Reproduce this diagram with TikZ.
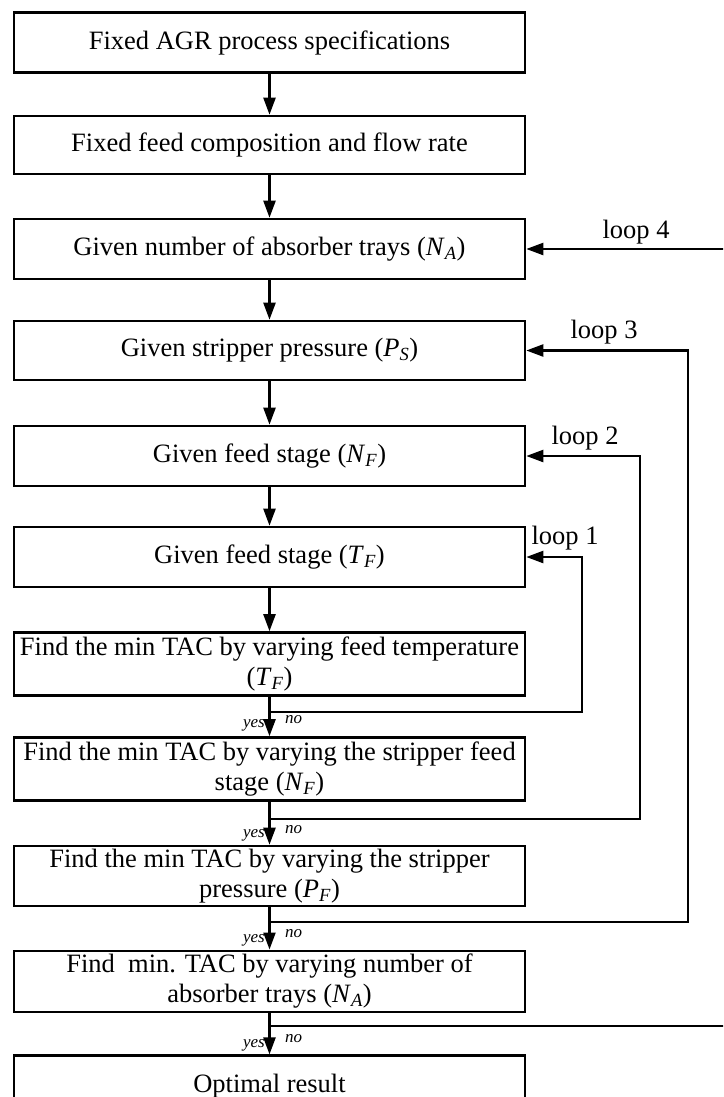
\documentclass[tikz,border=0pt]{standalone}
\usepackage{fontspec}
\setmainfont{Liberation Serif}
\usetikzlibrary{arrows.meta}
\newcommand\vr[2]{\textit{#1}\textsubscript{\textit{#2}}}
\begin{document}
\begin{tikzpicture}[x=1pt,y=-1pt,
 box/.style={draw, line width=2.6pt, minimum width=511pt, inner sep=0pt, align=center, font=\fontsize{26.5}{30}\selectfont},
 flow/.style={line width=2.3pt, -{Triangle[length=17pt,width=12pt]}},
 lbl/.style={font=\fontsize{26.5}{30}\selectfont, inner sep=0pt},
 yn/.style={font=\fontsize{17}{19}\selectfont\itshape, inner sep=0pt}]
\useasboundingbox (0,0) rectangle (723,1097);
\clip (0,0) rectangle (723,1097);
% boxes
\node[box, minimum height=60pt] (b1) at (269.5,42.5) {Fixed AGR process specifications};
\node[box, minimum height=58pt] (b2) at (269.5,145) {Fixed feed composition and flow rate};
\node[box, minimum height=60pt] (b3) at (269.5,249) {Given number of absorber trays (\vr{N}{A})};
\node[box, minimum height=59pt] (b4) at (269.5,350.5) {Given stripper pressure (\vr{P}{S})};
\node[box, minimum height=60pt] (b5) at (269.5,456) {Given feed stage (\vr{N}{F})};
\node[box, minimum height=60pt] (b6) at (269.5,557) {Given feed stage (\vr{T}{F})};
\node[box, minimum height=63pt] (b7) at (269.5,664) {Find the min TAC by varying feed temperature\\(\vr{T}{F})};
\node[box, minimum height=63pt] (b8) at (269.5,769) {Find the min TAC by varying the stripper feed\\stage (\vr{N}{F})};
\node[box, minimum height=60pt] (b9) at (269.5,876) {Find the min TAC by varying the stripper\\pressure (\vr{P}{F})};
\node[box, minimum height=61pt] (b10) at (269.5,981.3) {Find\ \ min. TAC by varying number of\\absorber trays (\vr{N}{A})};
\node[box, minimum height=60pt] (b11) at (269.5,1085.7) {Optimal result};
% main flow
\draw[flow] (b1) -- (b2);
\draw[flow] (b2) -- (b3);
\draw[flow] (b3) -- (b4);
\draw[flow] (b4) -- (b5);
\draw[flow] (b5) -- (b6);
\draw[flow] (b6) -- (b7);
\draw[flow] (b7) -- (b8);
\draw[flow] (b8) -- (b9);
\draw[flow] (b9) -- (b10);
\draw[flow] (b10) -- (b11);
% loop junctions and corners
\coordinate (j1) at (269.5,712);
\coordinate (k1) at (582,712);
\coordinate (j2) at (269.5,819);
\coordinate (k2) at (640,819);
\coordinate (j3) at (269.5,921.7);
\coordinate (k3) at (688,921.7);
\coordinate (j4) at (269.5,1026);
\coordinate (k4) at (745,1026);
\draw[flow] (j1) -- (k1) |- (b6.east);
\draw[flow] (j2) -- (k2) |- (b5.east);
\draw[flow] (j3) -- (k3) |- (b4.east);
\draw[flow] (j4) -- (k4) |- (b3.east);
% loop labels
\node[lbl] (l1) at (565,538) {loop 1};
\node[lbl] (l2) at (585,438) {loop 2};
\node[lbl] (l3) at (604,332) {loop 3};
\node[lbl] (l4) at (636,232) {loop 4};
% yes / no
\node[yn, anchor=base east] (y1) at (265,727) {yes};
\node[yn, anchor=base west] (n1) at (285,723) {no};
\node[yn, anchor=base east] (y2) at (265,837) {yes};
\node[yn, anchor=base west] (n2) at (285,833) {no};
\node[yn, anchor=base east] (y3) at (265,942) {yes};
\node[yn, anchor=base west] (n3) at (285,937) {no};
\node[yn, anchor=base east] (y4) at (265,1047) {yes};
\node[yn, anchor=base west] (n4) at (285,1042) {no};
\end{tikzpicture}
\end{document}
